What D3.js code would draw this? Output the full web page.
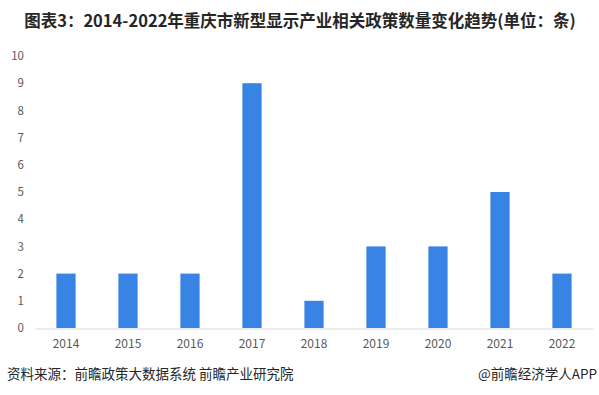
<!DOCTYPE html>
<html><head><meta charset="utf-8">
<script src="https://cdn.jsdelivr.net/npm/d3@7"></script>
<style>body{margin:0;background:#fff;}svg{display:block;}</style>
</head><body>
<script>
const categories = ["2014","2015","2016","2017","2018","2019","2020","2021","2022"];
const values = [2,2,2,9,1,3,3,5,2];
const yTicks = [0,1,2,3,4,5,6,7,8,9,10];
const title = "图表3：2014-2022年重庆市新型显示产业相关政策数量变化趋势(单位：条)";
const source = "资料来源：前瞻政策大数据系统 前瞻产业研究院";
const credit = "@前瞻经济学人APP";

const W = 599, H = 395;
const svg = d3.select("body").append("svg").attr("width", W).attr("height", H);
const font = "'Microsoft YaHei','Noto Sans CJK SC',sans-serif";

const x = d3.scaleBand().domain(categories).range([35, 593]).paddingInner(0.69).paddingOuter(0.345);
const y = d3.scaleLinear().domain([0, 10]).range([328, 56]);

svg.append("text").attr("x", 300).attr("y", 27).attr("text-anchor", "middle")
  .attr("font-family", font).attr("font-weight", "bold").attr("font-size", 16.5)
  .attr("fill", "#262626").text(title);

// y axis labels
const yAxis = svg.append("g").attr("transform", "translate(24,0)")
  .call(d3.axisLeft(y).tickValues(yTicks).tickSize(0).tickPadding(0));
yAxis.select(".domain").remove();
yAxis.selectAll("text").attr("font-family", font).attr("font-size", 11.5).attr("fill", "#595959");

// bars
svg.append("g").selectAll("rect").data(values).join("rect")
  .attr("x", (d, i) => x(categories[i]))
  .attr("width", x.bandwidth())
  .attr("y", d => y(d))
  .attr("height", d => y(0) - y(d))
  .attr("fill", "#3784E5");

// x axis
const xAxis = svg.append("g").attr("transform", "translate(0,328.5)")
  .call(d3.axisBottom(x).tickSize(0).tickPadding(11));
xAxis.select(".domain").attr("stroke", "#d9d9d9").attr("stroke-width", 1);
xAxis.selectAll("text").attr("font-family", font).attr("font-size", 12).attr("fill", "#595959");

svg.append("text").attr("x", 7).attr("y", 379).attr("font-family", font)
  .attr("font-size", 13.5).attr("fill", "#262626").text(source);
svg.append("text").attr("x", 597).attr("y", 379).attr("text-anchor", "end").attr("font-family", font)
  .attr("font-size", 13.5).attr("fill", "#262626").text(credit);
</script>
</body></html>
